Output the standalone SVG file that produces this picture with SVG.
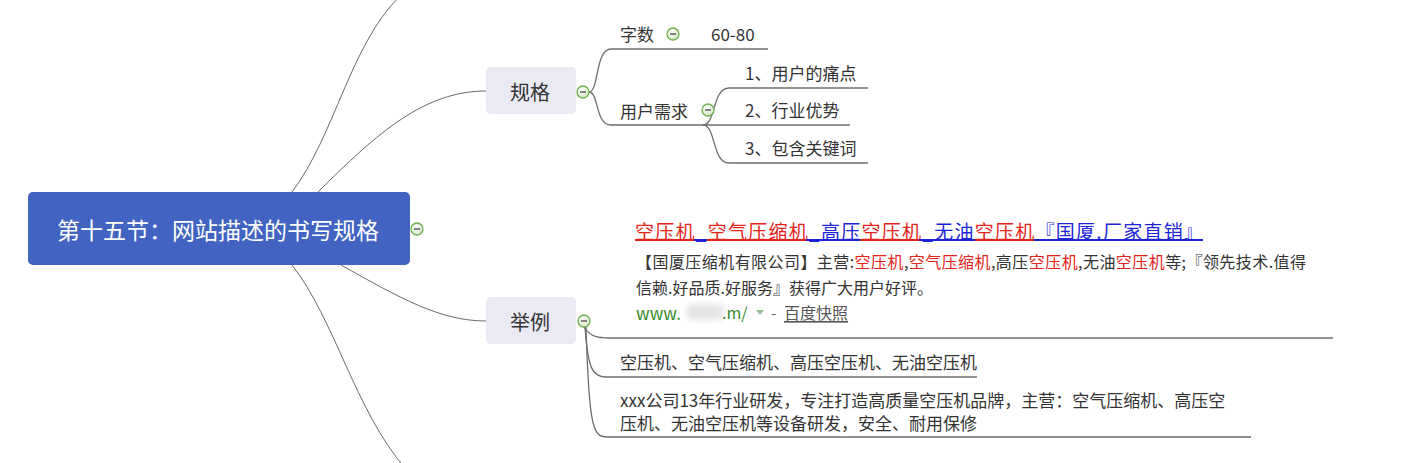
<svg xmlns="http://www.w3.org/2000/svg" width="1428" height="463" viewBox="0 0 1428 463">
<defs>
<style>
text{font-family:"Microsoft YaHei","Noto Sans CJK SC","Noto Sans",sans-serif;}
.conn{fill:none;stroke:#6a6a6a;stroke-width:1;}
.ul{fill:none;stroke:#6e6e6e;stroke-width:1.3;}
.t17{font-size:17px;fill:#333;dominant-baseline:central;}
.sub{fill:#e9eaf3;}
.red{fill:#e3241b;}
.blue{fill:#1c25d6;}
.gray{fill:#333;}
.rl{stroke:#e3241b;stroke-width:2;}
.bl{stroke:#1c25d6;stroke-width:2;}
</style>
<radialGradient id="ig" cx="0.4" cy="0.35" r="0.7">
<stop offset="0" stop-color="#ffffff"/>
<stop offset="1" stop-color="#cfe3c4"/>
</radialGradient>
<symbol id="col" viewBox="-7 -7 14 14" overflow="visible">
<circle r="6" fill="url(#ig)" stroke="#6fb04e" stroke-width="1.3"/>
<line x1="-3" y1="0" x2="3" y2="0" stroke="#444" stroke-width="1.3"/>
</symbol>
<filter id="blur" x="-50%" y="-50%" width="200%" height="200%">
<feGaussianBlur stdDeviation="3"/>
</filter>
</defs>
<rect width="1428" height="463" fill="#ffffff"/>

<g id="connectors">
<path class="conn" d="M292,192 C335,135 350,45 400,-4"/>
<path class="conn" d="M318,192 C378,132 425,91 486,91"/>
<path class="conn" d="M341,265 C400,298 440,321 486,321"/>
<path class="conn" d="M292,265 C335,320 355,410 405,468"/>
<path class="ul" d="M589,92 C599,92 595,49 611,49 H768"/>
<path class="ul" d="M589,92 C599,92 595,125 611,125 H703"/>
<path class="ul" d="M703,125 H850"/>
<path class="ul" d="M703,125 C716,125 712,88 729,88 H868"/>
<path class="ul" d="M703,125 C716,125 712,163 729,163 H868"/>
<path class="ul" d="M584,327 C590,336 596,338 610,338 H1333"/>
<path class="ul" d="M585,327 C588,368 592,377 606,377 H977"/>
<path class="ul" d="M586,327 C589,428 593,437 607,437 H1251"/>
</g>

<g id="root">
<rect x="28" y="192" width="382" height="73" rx="5" fill="#4163c1"/>
<text x="218" y="229" text-anchor="middle" dominant-baseline="central" font-size="23" fill="#ffffff">第十五节：网站描述的书写规格</text>
<use href="#col" x="410" y="222" width="14" height="14"/>
</g>

<g id="guige">
<rect class="sub" x="486" y="67" width="90" height="47" rx="5"/>
<text x="530" y="91" text-anchor="middle" dominant-baseline="central" font-size="20" fill="#333">规格</text>
<use href="#col" x="576" y="85" width="14" height="14"/>
</g>

<g id="zishu">
<text class="t17" x="620" y="33">字数</text>
<use href="#col" x="666" y="27" width="14" height="14"/>
<text class="t17" x="711" y="33">60-80</text>
</g>

<g id="yonghuxuqiu">
<text class="t17" x="620" y="110">用户需求</text>
<use href="#col" x="701" y="103" width="14" height="14"/>
</g>

<g id="need1"><text class="t17" x="745" y="72">1、用户的痛点</text></g>
<g id="need2"><text class="t17" x="745" y="109">2、行业优势</text></g>
<g id="need3"><text class="t17" x="745" y="147">3、包含关键词</text></g>

<g id="juli">
<rect class="sub" x="486" y="297" width="90" height="47" rx="5"/>
<text x="530" y="321" text-anchor="middle" dominant-baseline="central" font-size="20" fill="#333">举例</text>
<use href="#col" x="577" y="314" width="14" height="14"/>
</g>

<g id="example-search">
<text x="635" y="230" font-size="19" dominant-baseline="central" textLength="568" lengthAdjust="spacing"><tspan class="red">空压机</tspan><tspan class="blue">_</tspan><tspan class="red">空气压缩机</tspan><tspan class="blue">_高压</tspan><tspan class="red">空压机</tspan><tspan class="blue">_无油</tspan><tspan class="red">空压机</tspan><tspan class="blue">『国厦.厂家直销』</tspan></text>
<line class="bl" x1="635" y1="240" x2="1203" y2="240"/>
<line class="rl" x1="635" y1="240" x2="694" y2="240"/>
<line class="rl" x1="707" y1="240" x2="806" y2="240"/>
<line class="rl" x1="860" y1="240" x2="919" y2="240"/>
<line class="rl" x1="975" y1="240" x2="1034" y2="240"/>
<text x="636" y="261" font-size="16" dominant-baseline="central" fill="#333" textLength="670" lengthAdjust="spacing">【国厦压缩机有限公司】主营:<tspan class="red">空压机</tspan>,<tspan class="red">空气压缩机</tspan>,高压<tspan class="red">空压机</tspan>,无油<tspan class="red">空压机</tspan>等;『领先技术.值得</text>
<text x="636" y="287" font-size="16" dominant-baseline="central" fill="#333">信赖.好品质.好服务』获得广大用户好评。</text>
<text x="636" y="312" font-size="17" dominant-baseline="central" fill="#3a8a2e">www.</text>
<rect x="686" y="304" width="38" height="16" rx="6" fill="#e4e4e4" filter="url(#blur)"/>
<text x="722" y="312" font-size="16" dominant-baseline="central" fill="#3a8a2e">.m/</text>
<path d="M756,310 L764,310 L760,315 Z" fill="#9bbf9b"/>
<text x="771" y="312" font-size="15" dominant-baseline="central" fill="#666">-</text>
<text x="784" y="312" font-size="16" dominant-baseline="central" fill="#555" text-decoration="underline">百度快照</text>
</g>

<g id="example-keywords">
<text class="t17" x="620" y="361">空压机、空气压缩机、高压空压机、无油空压机</text>
</g>

<g id="example-desc">
<text class="t17" x="620" y="399">xxx公司13年行业研发，专注打造高质量空压机品牌，主营：空气压缩机、高压空</text>
<text class="t17" x="620" y="422">压机、无油空压机等设备研发，安全、耐用保修</text>
</g>
</svg>
